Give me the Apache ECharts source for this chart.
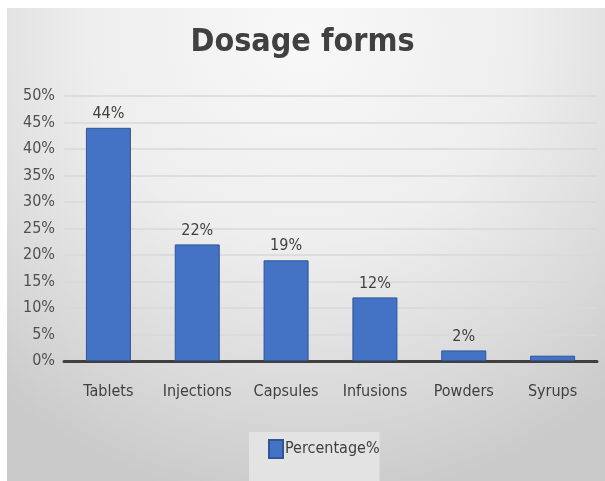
<!DOCTYPE html>
<html>
<head>
<meta charset="utf-8">
<script src="https://cdn.jsdelivr.net/npm/echarts@6/dist/echarts.min.js"></script>
<style>
  html, body { margin: 0; padding: 0; background: #ffffff; }
  #frame {
    position: absolute; left: 7px; top: 8px; width: 598px; height: 473px;
    background: radial-gradient(ellipse 80% 100% at 50% 5%, #f8f8f8 0%, #eeeeee 45%, #d8d8d8 80%, #cacaca 100%);
  }
  #chart { position: absolute; left: -7px; top: -8px; width: 605px; height: 481px; }
</style>
</head>
<body>
<div id="frame"><div id="chart"></div></div>
<script>
// Share of each dosage form, in percent
const categories = ['Tablets', 'Injections', 'Capsules', 'Infusions', 'Powders', 'Syrups'];
const percentages = [44, 22, 19, 12, 2, 1];
const showLabel = [true, true, true, true, true, false];
const seriesName = 'Percentage%';
const titleText = 'Dosage forms';

const font = '"DejaVu Sans Condensed", "Roboto Condensed", "Liberation Sans Narrow", sans-serif';
const chart = echarts.init(document.getElementById('chart'), null, { renderer: 'canvas' });

chart.setOption({
  backgroundColor: 'transparent',
  animation: false,
  title: {
    text: titleText,
    left: 'center',
    top: 22,
    textStyle: { fontFamily: font, fontSize: 32, fontWeight: 'bold', color: '#404040' }
  },
  legend: {
    bottom: 0,
    left: 249,
    itemWidth: 14,
    itemHeight: 18,
    itemGap: 0,
    padding: [7, 0, 22, 19],
    backgroundColor: '#e3e3e3',
    textStyle: { fontFamily: font, fontSize: 16, color: '#404040', padding: [0, 0, 0, -3] },
    data: [{ name: seriesName, icon: 'rect' }]
  },
  grid: { left: 64, right: 8, top: 96, bottom: 120 },
  xAxis: {
    type: 'category',
    data: categories,
    axisLine: { lineStyle: { color: '#404040', width: 3 } },
    axisTick: { show: false },
    axisLabel: { interval: 0, fontFamily: font, fontSize: 16, color: '#404040', margin: 23 }
  },
  yAxis: {
    type: 'value',
    min: 0,
    max: 50,
    interval: 5,
    axisLine: { show: false },
    axisTick: { show: false },
    axisLabel: { fontFamily: font, fontSize: 16, color: '#505050', margin: 9, formatter: '{value}%' },
    splitLine: { lineStyle: { color: '#d9d9d9', width: 1.5 } }
  },
  series: [{
    name: seriesName,
    type: 'bar',
    barWidth: 45,
    itemStyle: { color: '#4472c4', borderColor: '#2f5597', borderWidth: 1 },
    data: percentages.map((v, i) => ({
      value: v,
      label: {
        show: showLabel[i],
        position: 'top',
        distance: 6,
        formatter: '{c}%',
        fontFamily: font,
        fontSize: 16,
        color: '#404040'
      }
    }))
  }]
});
</script>
</body>
</html>
